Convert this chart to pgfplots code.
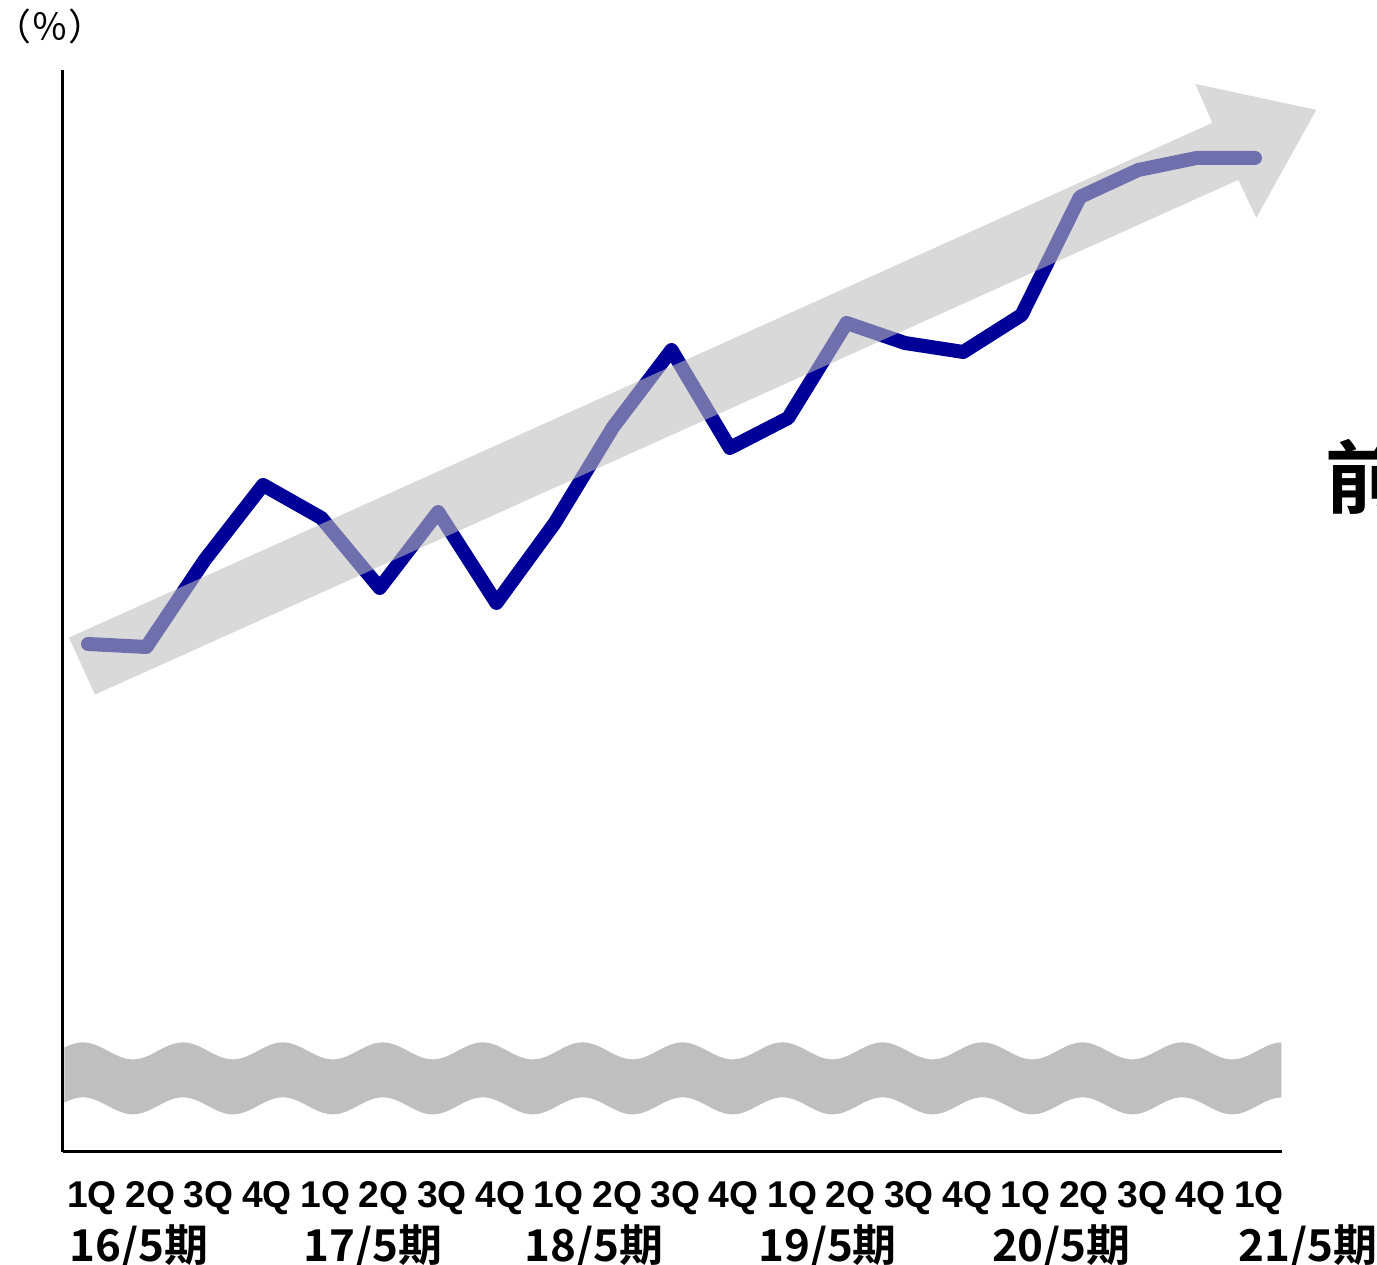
\documentclass[border=0pt]{standalone}
\usepackage{pgfplots}
\pgfplotsset{compat=1.18}
\usepackage{fontspec}
\setmainfont{Liberation Sans}
\newfontfamily\jp{Noto Sans CJK JP}[BoldFont={Noto Sans CJK JP Bold}]

\definecolor{linenavy}{RGB}{0,0,153}
\definecolor{arrowgray}{RGB}{190,190,190}
\definecolor{bandgray}{RGB}{191,191,191}

\begin{document}
\begin{tikzpicture}
% break band (pixel-like coordinates, 1 unit = 0.01cm, y downwards)
\begin{scope}[x=0.01cm,y=-0.01cm,shift={(0,12.65cm)}]
  \begin{scope}
    \clip (64.5,1000) rectangle (1282,1150);
    \fill[bandgray] (58,1051.5)
      \foreach \k in {1,...,13}{ sin ++(25,-8.5) cos ++(25,8.5) sin ++(25,8.5) cos ++(25,-8.5) }
      -- ++(0,55)
      \foreach \k in {1,...,13}{ sin ++(-25,8.5) cos ++(-25,-8.5) sin ++(-25,-8.5) cos ++(-25,8.5) }
      -- cycle;
  \end{scope}
\end{scope}

\begin{axis}[
  at={(0.63cm,1.13cm)}, anchor=south west,
  scale only axis,
  width=12.19cm, height=10.82cm,
  xmin=-0.4285, xmax=20.463,
  ymin=0, ymax=10.82,
  axis lines=left,
  axis line style={line width=0.03cm, -},
  xtick={0,...,20},
  xticklabels={1Q,2Q,3Q,4Q,1Q,2Q,3Q,4Q,1Q,2Q,3Q,4Q,1Q,2Q,3Q,4Q,1Q,2Q,3Q,4Q,1Q},
  xticklabel style={font=\bfseries\fontsize{10.6pt}{10.6pt}\selectfont, anchor=base, yshift=-0.56cm, xshift=0.04cm},
  ytick=\empty,
  major tick length=0pt,
  clip=false,
]
\addplot[linenavy, line width=0.14cm, line cap=round, line join=round] coordinates {
  (0,5.08) (1,5.05) (2,5.92) (3,6.67) (4,6.34) (5,5.64) (6,6.40) (7,5.49)
  (8,6.29) (9,7.25) (10,8.02) (11,7.04) (12,7.34) (13,8.29) (14,8.09)
  (15,8.00) (16,8.37) (17,9.55) (18,9.82) (19,9.94) (20,9.94)
};
\end{axis}

\begin{scope}[x=0.01cm,y=-0.01cm,shift={(0,12.65cm)}]
  % trend arrow
  \fill[arrowgray, fill opacity=0.59] (95,695) -- (69,638) -- (1213,123) -- (1196,84)
    -- (1317,110) -- (1257,218) -- (1239,180) -- cycle;
  % year labels
  \foreach \xx/\lab in {139/16, 373/17, 594/18, 828/19, 1062/20, 1309/21}
    \node[anchor=base, inner sep=0pt, font=\jp\bfseries\fontsize{12.5pt}{12.5pt}\selectfont] at (\xx,1262) {\lab/5期};
  % unit
  \node[inner sep=0pt, font=\jp\fontsize{10.5pt}{10.5pt}\selectfont] at (50,27) {（％）};
  % cut-off side text
  \node[anchor=base west, inner sep=0pt, font=\jp\bfseries\fontsize{22.8pt}{22.8pt}\selectfont] at (1326,508) {前};
\end{scope}

\pgfresetboundingbox
\path[use as bounding box] (0,0) rectangle (13.77cm,12.65cm);
\end{tikzpicture}
\end{document}
